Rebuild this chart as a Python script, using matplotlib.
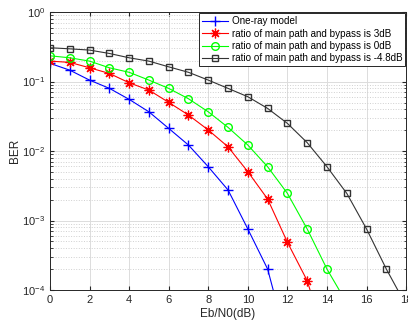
import numpy as np
import matplotlib
matplotlib.use('Agg')
import matplotlib.pyplot as plt
from matplotlib.ticker import LogLocator, NullFormatter

plt.rcParams['font.family'] = ['Liberation Sans', 'DejaVu Sans']
plt.rcParams['mathtext.fontset'] = 'custom'
plt.rcParams['mathtext.rm'] = 'Liberation Sans'
plt.rcParams['mathtext.it'] = 'Liberation Sans'

# Eb/N0 (dB) points per curve
snr_one = [0, 1, 2, 3, 4, 5, 6, 7, 8, 9, 10, 11, 12]
ber_one = [0.183, 0.146, 0.105, 0.080, 0.0555, 0.0367, 0.0212, 0.0122,
           0.00594, 0.00275, 7.55e-4, 2.0e-4, 1.7e-5]

snr_3db = [0, 1, 2, 3, 4, 5, 6, 7, 8, 9, 10, 11, 12, 13, 14]
ber_3db = [0.197, 0.189, 0.158, 0.131, 0.0961, 0.0755, 0.0502, 0.033,
           0.0201, 0.0115, 0.00504, 0.00204, 4.86e-4, 1.36e-4, 1.6e-5]

snr_0db = [0, 1, 2, 3, 4, 5, 6, 7, 8, 9, 10, 11, 12, 13, 14, 15]
ber_0db = [0.235, 0.220, 0.197, 0.158, 0.136, 0.105, 0.0798, 0.0566,
           0.0367, 0.0219, 0.0122, 0.00594, 0.00246, 7.55e-4, 2.0e-4, 6.5e-5]

snr_m48 = [0, 1, 2, 3, 4, 5, 6, 7, 8, 9, 10, 11, 12, 13, 14, 15, 16, 17, 18]
ber_m48 = [0.307, 0.296, 0.284, 0.254, 0.220, 0.197, 0.163, 0.136, 0.105,
           0.0798, 0.0605, 0.0411, 0.025, 0.0132, 0.00594, 0.00246,
           7.55e-4, 2.0e-4, 6.0e-5]

labels = ['One-ray model',
          'ratio of main path and bypass is 3dB',
          'ratio of main path and bypass is 0dB',
          'ratio of main path and bypass is -4.8dB']

fig = plt.figure(figsize=(4.08, 3.27), dpi=100)
ax = fig.add_axes([0.1225, 0.113, 0.873, 0.850])

ax.semilogy(snr_one, ber_one, color='#0000ff', marker='+', markersize=7,
            linewidth=0.8, label=labels[0])
ax.semilogy(snr_3db, ber_3db, color='#ff0000', marker=(8, 2, 0), markersize=7,
            markeredgewidth=0.9, linewidth=0.8, label=labels[1])
ax.semilogy(snr_0db, ber_0db, color='#00ff00', marker='o', markersize=5.5,
            markerfacecolor='none', linewidth=0.8, label=labels[2])
ax.semilogy(snr_m48, ber_m48, color='#333333', marker='s', markersize=5,
            markerfacecolor='none', linewidth=0.8, label=labels[3])

ax.set_xlim(0, 18)
ax.set_ylim(1e-4, 1)
ax.set_xticks(range(0, 19, 2))
ax.yaxis.set_major_locator(LogLocator(base=10, numticks=10))
ax.yaxis.set_minor_locator(LogLocator(base=10, subs=np.arange(2, 10), numticks=10))
ax.yaxis.set_minor_formatter(NullFormatter())

ax.grid(True, which='major', color='#dcdcdc', linewidth=0.7)
ax.grid(True, which='minor', axis='y', color='#d0d0d0', linestyle=':', linewidth=0.7)
ax.set_axisbelow(True)

for s in ax.spines.values():
    s.set_color('#262626')
    s.set_linewidth(0.7)
ax.tick_params(which='both', direction='in', top=True, right=True,
               labelsize=8, colors='#262626', length=3)
ax.tick_params(which='minor', length=1.8)

ax.set_xlabel('Eb/N0(dB)', fontsize=8.5, color='#262626', labelpad=2)
ax.set_ylabel('BER', fontsize=8.5, color='#262626', labelpad=1)

leg = ax.legend(loc='upper right', fontsize=7.1, frameon=True, fancybox=False,
                borderaxespad=0.1, handlelength=2.6, handletextpad=0.4,
                borderpad=0.3, labelspacing=0.25)
leg.get_frame().set_edgecolor('#262626')
leg.get_frame().set_linewidth(0.7)
leg.get_frame().set_alpha(1)

fig.savefig('out.png', dpi=100)
